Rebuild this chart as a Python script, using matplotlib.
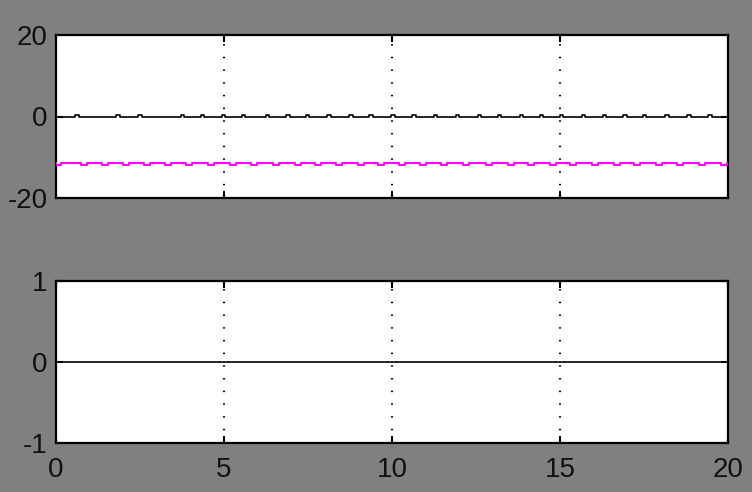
import matplotlib
matplotlib.use("Agg")
import matplotlib.pyplot as plt

plt.rcParams["axes.unicode_minus"] = False

# ---- data ----
t_range = [0, 20]
black_level = 0.0
black_bump = 0.35
black_bump_times = [0.63, 1.85, 2.5, 3.76, 4.36, 4.99, 5.58, 6.3, 6.9, 7.49, 8.12,
                    8.78, 9.37, 10.03, 10.65, 11.3, 11.95, 12.6, 13.2, 13.85, 14.45,
                    15.04, 15.7, 16.33, 16.93, 17.52, 18.18, 18.84, 19.46]
magenta_level = -11.4
magenta_dip = -11.95
magenta_dip_times = [0.05, 0.82, 1.45, 2.08, 2.71, 3.34, 3.97, 4.6, 5.28, 5.88, 6.54,
                     7.19, 7.79, 8.42, 9.07, 9.67, 10.3, 10.92, 11.55, 12.2, 12.88,
                     13.55, 14.15, 14.8, 15.4, 16.03, 16.69, 17.28, 17.94, 18.57,
                     19.22, 19.88]
bottom_level = 0.0

top_yticks = [-20, 0, 20]
bottom_yticks = [-1, 0, 1]
xticks = [0, 5, 10, 15, 20]
grid_x = [5, 10, 15]


def step_series(level, other, times, width):
    xs = [t_range[0]]
    ys = [level]
    for c in times:
        a, b = max(c - width / 2, t_range[0]), min(c + width / 2, t_range[1])
        xs += [a, a, b, b]
        ys += [level, other, other, level]
    xs.append(t_range[1])
    ys.append(level)
    return xs, ys


FAM, FS = "Liberation Sans", 20

BG = "#808080"
fig = plt.figure(figsize=(7.52, 4.92), dpi=100, facecolor=BG)

ax1 = fig.add_axes([56 / 752, 1 - 198 / 492, 672 / 752, 163 / 492])
ax2 = fig.add_axes([56 / 752, 1 - 443 / 492, 672 / 752, 162 / 492])

for ax, ylim, yt in [(ax1, (-20, 20), top_yticks), (ax2, (-1, 1), bottom_yticks)]:
    ax.set_facecolor("white")
    ax.set_xlim(*t_range)
    ax.set_ylim(*ylim)
    ax.set_yticks(yt)
    ax.set_xticks(xticks)
    for gx in grid_x:
        ax.axvline(gx, color="black", lw=1.5, linestyle=(0, (0.7, 5.4)), zorder=1)
    ax.tick_params(direction="in", length=5, width=1.5, top=True, right=True,
                   colors="black")
    ax.tick_params(axis="y", pad=6)
    ax.tick_params(axis="x", pad=10)
    for lbl in ax.get_yticklabels() + ax.get_xticklabels():
        lbl.set_fontfamily(FAM)
        lbl.set_fontsize(FS)
        lbl.set_color("#111111")
    for s in ax.spines.values():
        s.set_linewidth(1.6)
        s.set_color("black")

ax1.set_xticklabels([])

mx, my = step_series(magenta_level, magenta_dip, magenta_dip_times, 0.18)
ax1.plot(mx, my, color="#ff00ff", lw=1.5, zorder=3)
bx, by = step_series(black_level, black_bump, black_bump_times, 0.1)
ax1.plot(bx, by, color="black", lw=1.2, zorder=3)

ax2.plot(t_range, [bottom_level, bottom_level], color="black", lw=1.2, zorder=3)

fig.savefig("out.png", dpi=100, facecolor=BG)
